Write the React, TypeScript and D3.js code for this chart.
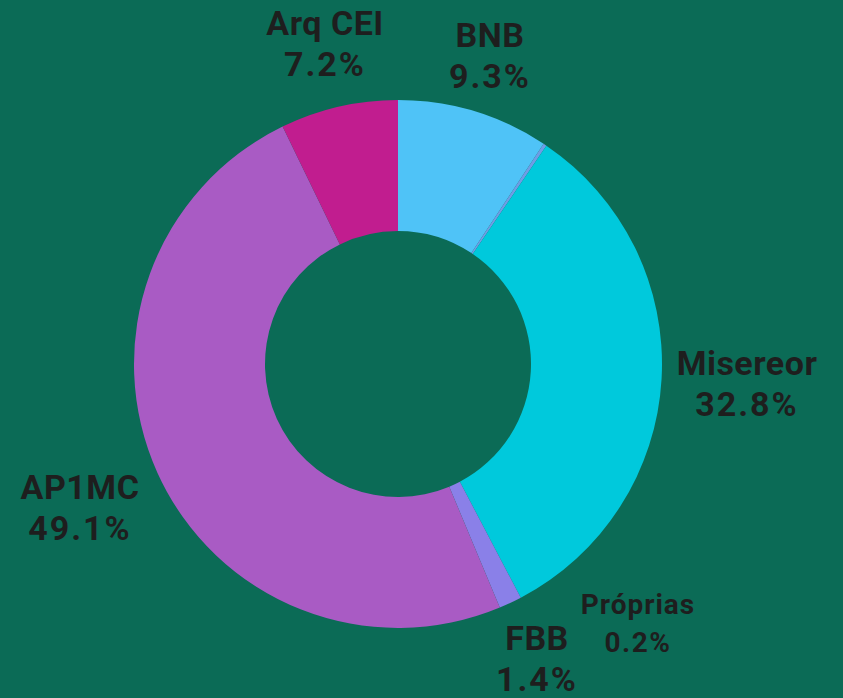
import React, { useEffect, useRef } from 'react'
import * as d3 from 'd3'

// sources of funding, clockwise from 12 o'clock
const sources = ['BNB', 'Próprias', 'Misereor', 'FBB', 'AP1MC', 'Arq CEI']
const shares = [9.3, 0.2, 32.8, 1.4, 49.1, 7.2]
const colors = ['#4fc3f7', '#6e9de6', '#00c9dc', '#8a80e8', '#a95bc4', '#c11d8f']

// where each label block sits (center x, baseline of name line, font size)
const labelAt: Record<string, [number, number, number]> = {
  BNB: [490, 47, 34],
  'Próprias': [638, 614, 28],
  Misereor: [747, 375, 34],
  FBB: [537, 650, 34],
  AP1MC: [80, 499, 34],
  'Arq CEI': [325, 35, 34],
}

const W = 843
const H = 698

export default function App() {
  const svgRef = useRef<SVGSVGElement>(null)

  useEffect(() => {
    const svg = d3.select(svgRef.current)
    svg.selectAll('*').remove()

    svg.append('rect').attr('width', W).attr('height', H).attr('fill', '#0b6b56')

    const cx = 398, cy = 364
    const outer = 264, inner = 133

    const data = sources.map((s, i) => ({ name: s, value: shares[i], color: colors[i] }))
    const pie = d3.pie<any>().value(d => d.value).sort(null)
    const arc = d3.arc<any>().innerRadius(inner).outerRadius(outer)

    const g = svg.append('g').attr('transform', `translate(${cx},${cy})`)
    g.selectAll('path')
      .data(pie(data))
      .join('path')
      .attr('d', arc)
      .attr('fill', d => d.data.color)

    const labels = svg.append('g')
      .attr('font-family', 'Roboto, sans-serif')
      .attr('font-weight', 700)
      .attr('fill', '#1e1e1e')
      .attr('text-anchor', 'middle')

    data.forEach(d => {
      const [x, y, fs] = labelAt[d.name]
      const big = fs > 30
      const t = labels.append('text').attr('x', x).attr('y', y).attr('font-size', fs)
      t.append('tspan').attr('x', x).attr('letter-spacing', big ? 0.5 : 1).text(d.name)
      t.append('tspan')
        .attr('x', x)
        .attr('dy', big ? 41 : 38)
        .attr('letter-spacing', big ? 2 : 1.5)
        .text(d.value.toFixed(1) + '%')
    })
  }, [])

  return (
    <svg
      ref={svgRef}
      width={W}
      height={H}
      style={{ position: 'absolute', left: 0, top: 0, display: 'block' }}
    />
  )
}
